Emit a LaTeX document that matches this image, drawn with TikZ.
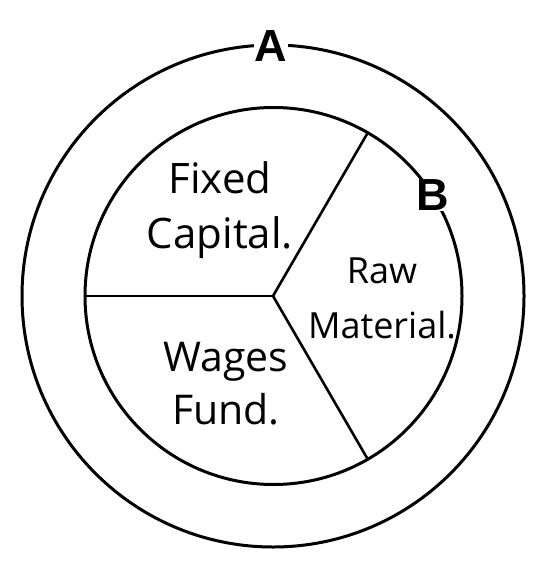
\documentclass[tikz,border=0pt]{standalone}
\usepackage{fontspec}
\setmainfont{Open Sans}
\newfontfamily\letterfont{Liberation Sans}

\begin{document}
\begin{tikzpicture}[
  x=1pt, y=-1pt,
  ring/.style={circle, draw, line width=3pt, inner sep=0pt, outer sep=0pt},
  divider/.style={line width=2.6pt, line cap=round},
  part/.style={align=center, inner sep=0pt},
  letter/.style={fill=white, inner sep=1pt, font=\letterfont\bfseries\fontsize{45}{45}\selectfont}
]
\useasboundingbox (0,0) rectangle (544,575);
\node[ring, minimum size=502pt] (outer) at (273,296) {};
\node[ring, minimum size=377pt] (inner) at (273.5,296) {};
\coordinate (hub) at (273,296);

\draw[divider] (hub) -- (inner.180);
\draw[divider] (hub) -- (inner.60);
\draw[divider] (hub) -- (inner.-60);

\node[part, font=\fontsize{42}{55}\selectfont] (fixed) at (220,210) {Fixed\\Capital.};
\node[part, font=\fontsize{36}{55}\selectfont] (raw) at (382,298) {Raw\\Material.};
\node[part, font=\fontsize{41}{53}\selectfont] (wages) at (226,384) {Wages\\Fund.};

\node[letter] (A) at (271,46) {A};
\node[letter] (B) at (433,195) {B};
\end{tikzpicture}
\end{document}
